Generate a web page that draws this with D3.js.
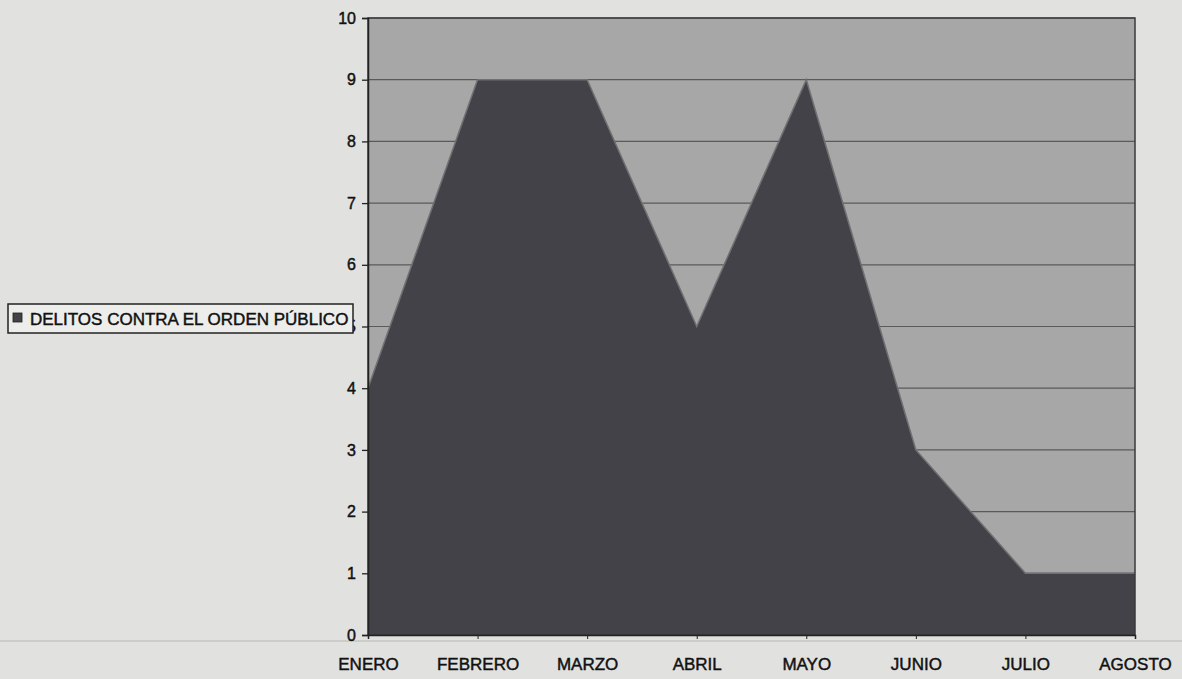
<!DOCTYPE html>
<html><head><meta charset="utf-8">
<script src="https://cdn.jsdelivr.net/npm/d3@7"></script>
<style>
html,body{margin:0;padding:0;background:#e1e1df;}
svg{display:block;font-family:"Liberation Sans",Arial,sans-serif;}
</style></head>
<body><svg id="c" width="1182" height="679"></svg>
<script>
const categories = ["ENERO","FEBRERO","MARZO","ABRIL","MAYO","JUNIO","JULIO","AGOSTO"];
const values = [4, 9, 9, 5, 9, 3, 1, 1];
const yTicks = [0,1,2,3,4,5,6,7,8,9,10];
const seriesName = "DELITOS CONTRA EL ORDEN PÚBLICO";

const svg = d3.select("#c");
const x0 = 368, x1 = 1135, yTop = 18, yBot = 635;
const x = d3.scalePoint().domain(categories).range([x0, x1]);
const y = d3.scaleLinear().domain([0, 10]).range([yBot, yTop]);

// bottom scan line
svg.append("line").attr("x1",0).attr("x2",1182).attr("y1",641).attr("y2",641)
  .attr("stroke","#c4c4c4").attr("stroke-width",1.5);

// plot background
svg.append("rect").attr("x",x0).attr("y",yTop).attr("width",x1-x0).attr("height",yBot-yTop)
  .attr("fill","#a7a7a7");

// gridlines
svg.append("g").selectAll("line").data(yTicks.filter(d=>d>0)).join("line")
  .attr("x1",x0).attr("x2",x1).attr("y1",d=>y(d)).attr("y2",d=>y(d))
  .attr("stroke","#5a5a5a").attr("stroke-width",1.2);

// area
const area = d3.area().x((d,i)=>x(categories[i])).y0(y(0)).y1(d=>y(d));
svg.append("path").datum(values).attr("d",area).attr("fill","#424248");
const line = d3.line().x((d,i)=>x(categories[i])).y(d=>y(d));
svg.append("path").datum(values).attr("d",line).attr("fill","none")
  .attr("stroke","#707073").attr("stroke-width",1.5);

// plot border
svg.append("rect").attr("x",x0).attr("y",yTop).attr("width",x1-x0).attr("height",yBot-yTop)
  .attr("fill","none").attr("stroke","#3a3a3a").attr("stroke-width",1.5);

const txtStyle = sel => sel.attr("fill","#111").attr("stroke","#111").attr("stroke-width",0.45)
  .attr("font-family","'Liberation Sans',Arial,sans-serif");

// y axis
const ya = svg.append("g").attr("transform",`translate(${x0},0)`)
  .call(d3.axisLeft(y).tickValues(yTicks).tickSize(6).tickPadding(6).tickFormat(d3.format("d")));
ya.select(".domain").attr("stroke","#222").attr("stroke-width",1.5);
ya.selectAll(".tick line").attr("stroke","#222").attr("stroke-width",1.3);
ya.selectAll(".tick text").attr("font-size",16).call(txtStyle);

// x axis
const xa = svg.append("g").attr("transform",`translate(0,${yBot})`)
  .call(d3.axisBottom(x).tickSize(4).tickPadding(19));
xa.select(".domain").attr("stroke","#222").attr("stroke-width",1.5);
xa.selectAll(".tick line").attr("stroke","#222");
xa.selectAll(".tick text").attr("font-size",17).call(txtStyle);

// legend
const lg = svg.append("g").attr("transform","translate(8,304)");
lg.append("rect").attr("x",0).attr("y",0).attr("width",345).attr("height",29)
  .attr("fill","#ededeb").attr("stroke","#222").attr("stroke-width",1.5);
lg.append("rect").attr("x",5).attr("y",9).attr("width",9).attr("height",9)
  .attr("fill","#424248").attr("stroke","#222").attr("stroke-width",0.8);
lg.append("text").attr("x",22).attr("y",21).attr("font-size",17).call(txtStyle)
  .text(seriesName);
</script></body></html>
